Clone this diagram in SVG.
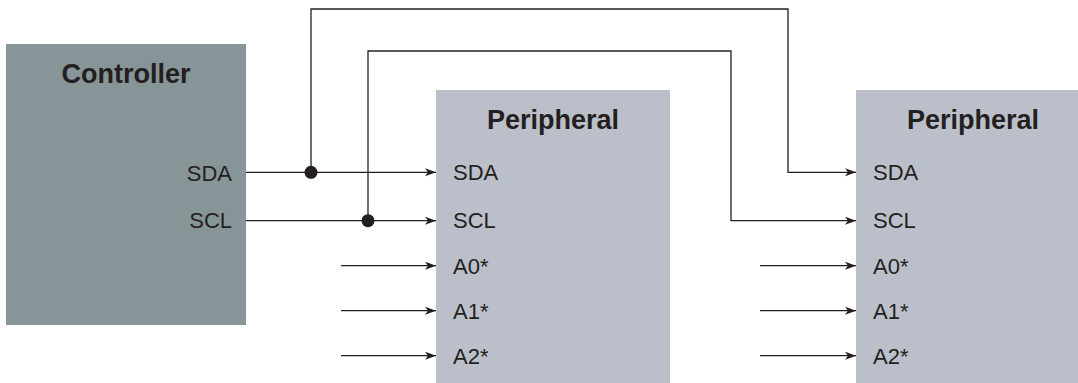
<svg xmlns="http://www.w3.org/2000/svg" width="1078" height="383" viewBox="0 0 1078 383">
<style>
.title{font-family:"Liberation Sans",Arial,sans-serif;font-weight:bold;font-size:27px;fill:#231f20;text-anchor:middle}
.pin{font-family:"Liberation Sans",Arial,sans-serif;font-size:22px;fill:#231f20}
.wire{fill:none;stroke:#231f20;stroke-width:1.3}
.dot{fill:#231f20}
</style>
<defs>
<marker id="arr" markerUnits="userSpaceOnUse" markerWidth="12" markerHeight="10" refX="11" refY="4" orient="auto">
<path d="M0,0 L11,4 L0,8 L3,4 Z" fill="#231f20"/>
</marker>
</defs>
<rect width="1078" height="383" fill="#ffffff"/>
<g id="controller">
<rect x="6" y="44" width="240" height="281" fill="#879598"/>
<text class="title" x="126" y="83">Controller</text>
<text class="pin" x="232" y="181" text-anchor="end">SDA</text>
<text class="pin" x="232" y="228" text-anchor="end">SCL</text>
</g>
<g id="peripheral1">
<rect x="436" y="90" width="234" height="293" fill="#bbbfc9"/>
<text class="title" x="553" y="129">Peripheral</text>
<text class="pin" x="453" y="180">SDA</text>
<text class="pin" x="453" y="228">SCL</text>
<text class="pin" x="453" y="274">A0*</text>
<text class="pin" x="453" y="319">A1*</text>
<text class="pin" x="453" y="364">A2*</text>
</g>
<g id="peripheral2">
<rect x="856" y="90" width="234" height="293" fill="#bbbfc9"/>
<text class="title" x="973" y="129">Peripheral</text>
<text class="pin" x="873" y="180">SDA</text>
<text class="pin" x="873" y="228">SCL</text>
<text class="pin" x="873" y="274">A0*</text>
<text class="pin" x="873" y="319">A1*</text>
<text class="pin" x="873" y="364">A2*</text>
</g>
<g id="connectors">
<path class="wire" d="M246,172.3 H436" marker-end="url(#arr)"/>
<path class="wire" d="M246,220.7 H436" marker-end="url(#arr)"/>
<path class="wire" d="M311,172.3 V9 H788 V172.3 H856" marker-end="url(#arr)"/>
<path class="wire" d="M368,220.7 V51 H731 V220.7 H856" marker-end="url(#arr)"/>
<path class="wire" d="M341,265.7 H436" marker-end="url(#arr)"/>
<path class="wire" d="M341,310.7 H436" marker-end="url(#arr)"/>
<path class="wire" d="M341,355.7 H436" marker-end="url(#arr)"/>
<path class="wire" d="M760,265.7 H856" marker-end="url(#arr)"/>
<path class="wire" d="M760,310.7 H856" marker-end="url(#arr)"/>
<path class="wire" d="M760,355.7 H856" marker-end="url(#arr)"/>
<circle class="dot" cx="311" cy="172.3" r="6.5"/>
<circle class="dot" cx="368" cy="220.7" r="6.5"/>
</g>
</svg>
